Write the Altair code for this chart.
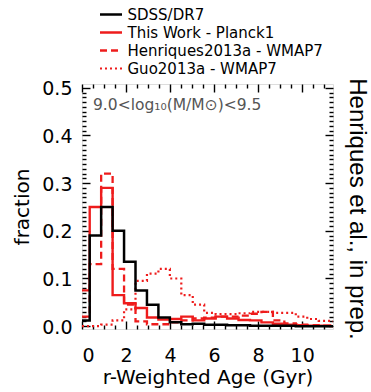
import altair as alt
import pandas as pd

# ---- data ----
bin_edges = [0.0, 0.35, 0.87, 1.39, 1.91, 2.43, 2.95, 3.47, 3.99, 4.51, 5.03, 5.55,
             6.07, 6.59, 7.11, 7.63, 8.15, 8.67, 9.19, 9.71, 10.23, 10.75, 11.27, 11.6]

sdss_dr7 = [0.012, 0.19, 0.25, 0.20, 0.135, 0.075, 0.045, 0.018, 0.008, 0.004, 0.005,
            0.003, 0.003, 0.002, 0.002, 0.001, 0.001, 0.001, 0.001, 0.0, 0.0, 0.0, 0.0]
this_work = [0.075, 0.25, 0.29, 0.065, 0.048, 0.038, 0.018, 0.014, 0.015, 0.02, 0.012,
             0.016, 0.02, 0.016, 0.013, 0.012, 0.008, 0.005, 0.003, 0.002, 0.001, 0.001, 0.0]
henriques13 = [0.02, 0.13, 0.32, 0.12, 0.045, 0.01, 0.004, 0.004, 0.008, 0.012, 0.016,
               0.018, 0.02, 0.02, 0.022, 0.026, 0.03, 0.012, 0.006, 0.003, 0.002, 0.001, 0.0]
guo13 = [0.0, 0.0, 0.003, 0.012, 0.035, 0.095, 0.11, 0.12, 0.10, 0.065, 0.045,
         0.028, 0.025, 0.025, 0.027, 0.03, 0.03, 0.028, 0.028, 0.02, 0.015, 0.011, 0.01]

series_names = ["SDSS/DR7", "This Work - Planck1", "Henriques2013a - WMAP7", "Guo2013a - WMAP7"]
series_values = [sdss_dr7, this_work, henriques13, guo13]
series_colors = ["#000000", "#ee1c1c", "#ee1c1c", "#ee1c1c"]
series_dashes = [[1, 0], [1, 0], [7, 4], [2, 3]]
series_widths = [2.5, 2.2, 2.2, 2.0]

x_labels = [0, 2, 4, 6, 8, 10]
y_labels = [0.0, 0.1, 0.2, 0.3, 0.4, 0.5]
x_tick_marks = [i * 0.5 for i in range(23)]
y_tick_marks = [round(i * 0.01, 2) for i in range(51)]

mass_bin_text = "9.0<log₁₀(M/M⊙)<9.5"
side_text = "Henriques et al., in prep."

W, H = 251, 245
FONT = "DejaVu Sans"

rows = []
draw_order = [3, 2, 1, 0]
for k in draw_order:
    name, vals = series_names[k], series_values[k]
    for i, v in enumerate(vals):
        rows.append({"series": name, "age": bin_edges[i], "fraction": v, "i": i})
    rows.append({"series": name, "age": bin_edges[len(vals)], "fraction": vals[-1], "i": len(vals)})
df = pd.DataFrame(rows)

xscale = alt.Scale(domain=[0, 11.4], nice=False, zero=False)
yscale = alt.Scale(domain=[-0.006, 0.508], nice=False, zero=False)

major_y = "abs(datum.value*10 - round(datum.value*10)) < 0.001"
major_x = "abs(datum.value/2 - round(datum.value/2)) < 0.001"

legend_common = dict(title=None, orient="none", legendX=21.5, legendY=-77, padding=0,
                     symbolType="M-2,0H2", symbolSize=121, symbolStrokeWidth=2.2,
                     labelFont=FONT, labelFontSize=15, labelColor="black", labelOffset=9,
                     rowPadding=2, labelLimit=300)

lines = alt.Chart(df).mark_line(interpolate="step-after", clip=True).encode(
    x=alt.X("age:Q", scale=xscale,
            axis=alt.Axis(values=x_labels, format="d", ticks=False, domain=False, grid=False,
                          labelFontSize=19, labelFont=FONT, labelColor="black", labelPadding=17,
                          title="r-Weighted Age (Gyr)", titleFontSize=20, titleFont=FONT,
                          titleFontWeight="normal", titleColor="black", titlePadding=2)),
    y=alt.Y("fraction:Q", scale=yscale,
            axis=alt.Axis(values=y_labels, format=".1f", ticks=False, domain=False, grid=False,
                          labelFontSize=19, labelFont=FONT, labelColor="black", labelPadding=10,
                          labelOffset=1,
                          title="fraction", titleFontSize=20, titleFont=FONT,
                          titleFontWeight="normal", titleColor="black", titlePadding=9)),
    color=alt.Color("series:N", scale=alt.Scale(domain=series_names, range=series_colors),
                    legend=alt.Legend(**legend_common)),
    strokeDash=alt.StrokeDash("series:N", scale=alt.Scale(domain=series_names, range=series_dashes),
                              legend=alt.Legend(**legend_common)),
    strokeWidth=alt.StrokeWidth("series:N", scale=alt.Scale(domain=series_names, range=series_widths),
                                legend=None),
    order="i:Q",
)

def tick_axis(orient, offset, values, test):
    return alt.Axis(orient=orient, offset=offset, values=values, labels=False, domain=False,
                    grid=False, title=None, tickColor="black", tickWidth=1.4,
                    tickSize={"condition": {"test": test, "value": 8}, "value": 4})

ticks_a = alt.Chart(df).mark_point(opacity=0).encode(
    x=alt.X("age:Q", scale=xscale, axis=tick_axis("top", -H, x_tick_marks, major_x)),
    y=alt.Y("fraction:Q", scale=yscale, axis=tick_axis("right", -W, y_tick_marks, major_y)),
)
ticks_b = alt.Chart(df).mark_point(opacity=0).encode(
    x=alt.X("age:Q", scale=xscale, axis=tick_axis("bottom", -H, x_tick_marks, major_x)),
    y=alt.Y("fraction:Q", scale=yscale, axis=tick_axis("left", -W, y_tick_marks, major_y)),
)

txt_df = pd.DataFrame({"t": [0]})
mass_text = alt.Chart(txt_df).mark_text(
    text=mass_bin_text, align="left", baseline="middle", font=FONT, fontSize=15.5, color="#555555"
).encode(x=alt.value(11), y=alt.value(21))
side = alt.Chart(txt_df).mark_text(
    text=side_text, align="center", baseline="middle", font="Liberation Sans", fontSize=24,
    angle=90, color="black"
).encode(x=alt.value(275), y=alt.value(125))

chart = alt.layer(lines, ticks_a, ticks_b, mass_text, side).resolve_axis(
    x="independent", y="independent"
).properties(
    width=W, height=H,
    autosize=alt.AutoSizeParams(type="none"),
    padding={"left": 82, "top": 84, "right": 38, "bottom": 63},
).configure_view(
    stroke="black", strokeWidth=2
).configure(background="white")

chart.save("out.html", embed_options={"renderer": "svg", "actions": False})
